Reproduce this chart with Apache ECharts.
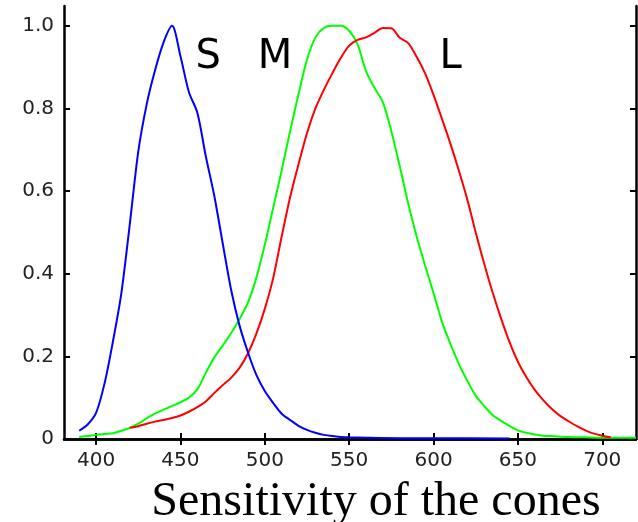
<!DOCTYPE html>
<html>
<head>
<meta charset="utf-8">
<script src="https://cdn.jsdelivr.net/npm/echarts@6/dist/echarts.min.js"></script>
<style>
  html, body { margin: 0; padding: 0; background: #fff; }
  #chart { width: 638px; height: 522px; }
</style>
</head>
<body>
<div id="chart"></div>
<script>
// wavelengths (nm) and relative sensitivity
const sWave = [390, 395, 400, 405, 410, 415, 420, 425, 430, 435, 440, 445, 450, 455, 460, 465, 470, 475, 480, 485, 490, 495, 500, 505, 510, 515, 520, 525, 530, 535, 540, 545, 550, 560, 580, 600, 645];
const sVals = [0.02, 0.035, 0.063, 0.134, 0.236, 0.353, 0.52, 0.695, 0.81, 0.893, 0.96, 1.0, 0.927, 0.84, 0.79, 0.685, 0.59, 0.475, 0.362, 0.275, 0.21, 0.155, 0.116, 0.087, 0.061, 0.046, 0.032, 0.022, 0.015, 0.01, 0.007, 0.005, 0.004, 0.003, 0.002, 0.002, 0.001];

const mWave = [390, 395, 400, 405, 410, 415, 420, 425, 430, 435, 440, 445, 450, 455, 460, 465, 470, 475, 480, 485, 490, 495, 500, 505, 510, 515, 520, 525, 530, 535, 540, 545, 550, 555, 560, 565, 570, 575, 580, 585, 590, 595, 600, 605, 610, 615, 620, 625, 630, 635, 640, 645, 650, 655, 660, 665, 670, 680, 690, 700, 720];
const mVals = [0.005, 0.007, 0.01, 0.012, 0.014, 0.02, 0.027, 0.037, 0.05, 0.062, 0.071, 0.08, 0.089, 0.1, 0.12, 0.16, 0.197, 0.226, 0.256, 0.29, 0.33, 0.39, 0.47, 0.56, 0.65, 0.745, 0.835, 0.918, 0.972, 0.995, 1.0, 1.0, 0.988, 0.955, 0.89, 0.85, 0.815, 0.745, 0.66, 0.57, 0.49, 0.42, 0.353, 0.284, 0.23, 0.182, 0.141, 0.105, 0.08, 0.058, 0.044, 0.032, 0.021, 0.015, 0.011, 0.008, 0.007, 0.005, 0.004, 0.003, 0.003];

const lWave = [420, 425, 430, 435, 440, 445, 450, 455, 460, 465, 470, 475, 480, 485, 490, 495, 500, 505, 510, 515, 520, 525, 530, 535, 540, 545, 550, 555, 560, 565, 570, 575, 580, 585, 590, 595, 600, 605, 610, 615, 620, 625, 630, 635, 640, 645, 650, 655, 660, 665, 670, 675, 680, 685, 690, 695, 700, 705];
const lVals = [0.027, 0.031, 0.037, 0.042, 0.046, 0.051, 0.057, 0.066, 0.077, 0.091, 0.111, 0.13, 0.148, 0.172, 0.207, 0.255, 0.315, 0.39, 0.49, 0.585, 0.665, 0.74, 0.8, 0.845, 0.885, 0.922, 0.952, 0.966, 0.972, 0.983, 0.995, 0.994, 0.971, 0.958, 0.925, 0.885, 0.833, 0.775, 0.715, 0.65, 0.58, 0.5, 0.425, 0.355, 0.292, 0.235, 0.187, 0.15, 0.119, 0.094, 0.073, 0.056, 0.043, 0.031, 0.021, 0.013, 0.008, 0.004];

const xTicks = [400, 450, 500, 550, 600, 650, 700];
const yTicks = [0, 0.2, 0.4, 0.6, 0.8, 1.0];

// curve letters and where they sit (data units)
const curveNames = ["S", "M", "L"];
const nameSpots = [[466.4, 0.922], [506.1, 0.922], [610.1, 0.922]];

const pair = (xs, ys) => xs.map((x, i) => [x, ys[i]]);

const frame = { show: true, lineStyle: { color: "#000", width: 2.5 } };
const tick = (vals) => ({ show: true, inside: true, length: 6, customValues: vals, lineStyle: { color: "#000", width: 2 } });
const labelFont = { fontFamily: "DejaVu Sans", fontSize: 20, color: "#222" };

function xAx(pos, labels) {
  return {
    type: "value", position: pos, min: 381, max: 720,
    axisLine: frame, axisTick: tick(xTicks), splitLine: { show: false },
    axisLabel: labels ? { ...labelFont, margin: 12, customValues: xTicks } : { show: false },
  };
}
function yAx(pos, labels) {
  return {
    type: "value", position: pos, min: 0, max: 1.048,
    axisLine: frame, axisTick: tick(yTicks), splitLine: { show: false },
    axisLabel: labels
      ? { ...labelFont, margin: 10, customValues: yTicks, formatter: (v) => (v === 0 ? "0" : v.toFixed(1)) }
      : { show: false },
  };
}

function curve(xs, ys, color, idx) {
  return {
    type: "line",
    data: pair(xs, ys),
    smooth: 0.3,
    showSymbol: false,
    lineStyle: { color: color, width: 2 },
    itemStyle: { color: color },
    animation: false,
    markPoint: {
      symbol: "circle",
      symbolSize: 0,
      label: {
        show: true, position: "inside", formatter: curveNames[idx],
        fontFamily: "DejaVu Sans", fontSize: 40, color: "#000",
        align: "center", verticalAlign: "middle",
      },
      data: [{ coord: nameSpots[idx] }],
    },
  };
}

const chart = echarts.init(document.getElementById("chart"));
chart.setOption({
  animation: false,
  backgroundColor: "#fff",
  grid: { left: 64, right: 2, top: 6, bottom: 83 },
  xAxis: [xAx("bottom", true), xAx("top", false)],
  yAxis: [yAx("left", true), yAx("right", false)],
  graphic: [{
    type: "text", x: 376, y: 478,
    style: {
      text: "Sensitivity of the cones", fill: "#000",
      font: "48px 'Liberation Serif'", textAlign: "center", textVerticalAlign: "top",
    },
  }],
  series: [
    curve(mWave, mVals, "#00ff00", 1),
    curve(lWave, lVals, "#ff0000", 2),
    curve(sWave, sVals, "#0000ff", 0),
  ],
});
</script>
</body>
</html>
